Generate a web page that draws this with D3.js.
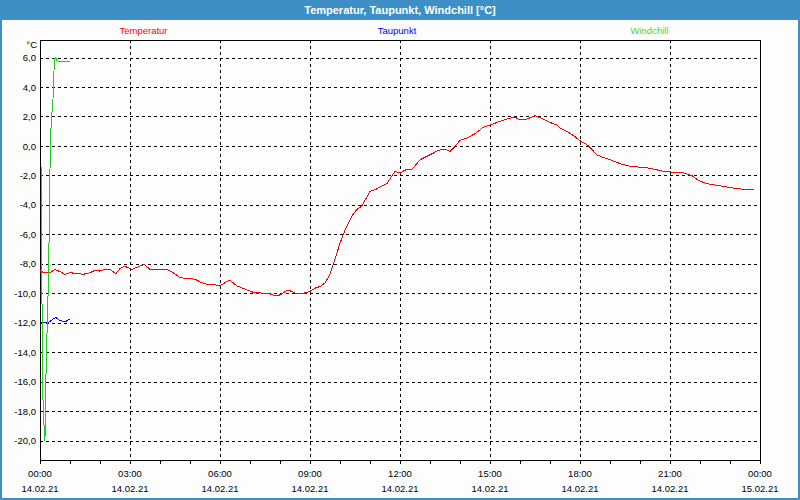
<!DOCTYPE html>
<html><head><meta charset="utf-8">
<script src="https://cdn.jsdelivr.net/npm/d3@7"></script>
<style>body{margin:0;background:#fff}svg{display:block}</style>
</head><body>
<svg id="c" width="800" height="500"></svg>
<script>
// Data (hours after 14.02.21 00:00, °C)
const tempHours = [0.0,0.11,0.33,0.5,0.67,0.83,1.0,1.44,1.67,1.83,2.0,2.17,2.33,2.53,2.67,2.83,3.06,3.28,3.47,3.67,3.83,4.0,4.28,4.44,4.67,4.89,5.17,5.33,5.61,5.83,6.0,6.17,6.33,6.56,6.83,7.11,7.39,7.67,7.83,8.0,8.22,8.33,8.56,8.78,9.0,9.22,9.33,9.5,9.67,9.83,10.0,10.17,10.39,10.56,10.72,11.0,11.17,11.33,11.56,11.83,12.0,12.2,12.39,12.67,13.0,13.28,13.5,13.67,13.78,14.0,14.22,14.5,14.78,15.02,15.33,15.67,15.83,16.0,16.17,16.5,16.72,17.0,17.22,17.33,17.56,17.78,18.02,18.22,18.39,18.56,18.78,19.0,19.22,19.44,19.72,20.0,20.33,20.56,20.78,21.11,21.44,21.72,21.94,22.22,22.56,22.89,23.22,23.56,23.81];
const tempValues = [-8.42,-8.6,-8.6,-8.38,-8.53,-8.71,-8.6,-8.71,-8.6,-8.44,-8.49,-8.38,-8.38,-8.67,-8.31,-8.16,-8.38,-8.2,-8.04,-8.38,-8.42,-8.38,-8.42,-8.6,-8.93,-9.0,-9.04,-9.22,-9.42,-9.42,-9.49,-9.27,-9.11,-9.49,-9.71,-9.93,-9.98,-10.04,-10.16,-10.11,-9.82,-9.82,-10.04,-10.0,-9.87,-9.6,-9.55,-9.3,-8.7,-7.7,-6.6,-5.7,-4.77,-4.32,-4.09,-3.08,-2.97,-2.79,-2.56,-1.72,-1.84,-1.61,-1.61,-0.93,-0.6,-0.3,-0.21,-0.37,-0.14,0.37,0.53,0.83,1.28,1.44,1.66,1.89,1.95,1.77,1.77,2.05,1.89,1.59,1.44,1.22,1.0,0.71,0.33,0.11,-0.22,-0.6,-0.78,-0.93,-1.11,-1.27,-1.4,-1.44,-1.51,-1.62,-1.73,-1.78,-1.82,-2.0,-2.33,-2.56,-2.67,-2.78,-2.89,-2.96,-2.96];

const dewMinutes = [1,15,20,28,32,36,40,46,52,56,59];
const dewValues = [-12.0,-12.0,-11.9,-11.7,-11.65,-11.75,-11.85,-11.9,-11.9,-11.8,-11.8];

const chillMinutes = [3.4,3.6,5.2,6.2,10,10.4,13,16.5,18.6,20,22,24,26,27,29,31,34,40,59];
const chillValues = [-1.4,-9.6,-14.0,-18.0,-20.0,-18.0,-14.0,-9.6,-5.5,-1.6,1.2,2.3,3.2,4.3,5.9,6.0,5.8,5.7,5.7];

const seriesNames = ["Temperatur","Taupunkt","Windchill"];
const yTicks = [-20,-18,-16,-14,-12,-10,-8,-6,-4,-2,0,2,4,6];
const xLabelHours = [0,3,6,9,12,15,18,21,24];
const xLabelDates = ["14.02.21","14.02.21","14.02.21","14.02.21","14.02.21","14.02.21","14.02.21","14.02.21","15.02.21"];
const title = "Temperatur, Taupunkt, Windchill [°C]";
const unit = "°C";

const svg = d3.select("#c");
const W = 800, H = 500;
const L = 40, R = 760, T = 40, B = 460;
const colors = ["#ff0000","#0000ff","#22cc22"];
const legColors = ["#ff0000","#0000ff","#44dd22"];
const font = "'Liberation Sans', Arial, sans-serif";

svg.append("rect").attr("x",0).attr("y",0).attr("width",W).attr("height",H).attr("fill","#fcfdfc");
// title bar
svg.append("rect").attr("x",0).attr("y",0).attr("width",W).attr("height",20).attr("fill","#3d8fc5");
svg.append("rect").attr("x",1).attr("y",1).attr("width",W-2).attr("height",H-2).attr("fill","none").attr("stroke","#3d8fc5").attr("stroke-width",2);
svg.append("text").attr("x",W/2).attr("y",13.5).attr("text-anchor","middle").attr("fill","#fff")
  .attr("font-family",font).attr("font-weight","bold").attr("font-size","11px").text(title);

const t0 = new Date(2021,1,14,0,0);
const t1 = new Date(2021,1,15,0,0);
const hr = h => new Date(t0.getTime() + h*3600000);
const x = d3.scaleTime().domain([t0,t1]).range([L,R]);
const y = d3.scaleLinear().domain([-21.31,7.19]).range([B,T]);

// grid
const grid = svg.append("g").attr("shape-rendering","crispEdges").attr("stroke","#000").attr("stroke-dasharray","3,3");
grid.selectAll("line.h").data(yTicks).join("line").attr("class","h")
  .attr("x1",L).attr("x2",R).attr("y1",d=>Math.round(y(d))+0.5).attr("y2",d=>Math.round(y(d))+0.5);
grid.selectAll("line.v").data(xLabelHours.filter(h=>h>0&&h<24)).join("line").attr("class","v")
  .attr("x1",d=>Math.round(x(hr(d)))+0.5).attr("x2",d=>Math.round(x(hr(d)))+0.5).attr("y1",T).attr("y2",B);

// frame
svg.append("rect").attr("x",L+0.5).attr("y",T+0.5).attr("width",R-L).attr("height",B-T)
  .attr("fill","none").attr("stroke","#000").attr("shape-rendering","crispEdges");

// x axis minor ticks
const xAxis = d3.axisBottom(x).ticks(d3.timeHour.every(1)).tickSize(4).tickFormat("");
const gx = svg.append("g").attr("transform",`translate(0,${B})`).attr("shape-rendering","crispEdges").call(xAxis);
gx.select(".domain").remove();
gx.selectAll(".tick line").attr("stroke","#000");

const lab = svg.append("g").attr("font-family",font).attr("font-size","9.5px").attr("fill","#000").attr("text-anchor","middle");
lab.selectAll("text.t").data(xLabelHours).join("text").attr("class","t")
  .attr("x",d=>x(hr(d))).attr("y",477).text(d=>d3.timeFormat("%H:%M")(hr(d)));
lab.selectAll("text.d").data(xLabelDates).join("text").attr("class","d")
  .attr("x",(d,i)=>x(hr(xLabelHours[i]))).attr("y",492).text(d=>d);

// y axis labels
const yAxis = d3.axisLeft(y).tickValues(yTicks).tickSize(0).tickPadding(4)
  .tickFormat(d=>d.toFixed(1).replace(".",","));
const gy = svg.append("g").attr("transform",`translate(${L},0)`).call(yAxis);
gy.select(".domain").remove();
gy.selectAll("text").attr("font-family",font).attr("font-size","9.5px").attr("fill","#000");
svg.append("text").attr("x",37).attr("y",48).attr("text-anchor","end").attr("font-family",font)
  .attr("font-size","9.5px").attr("fill","#000").text(unit);

// legend
const legX = [143.5,397,649.5];
svg.selectAll("text.leg").data(seriesNames).join("text").attr("class","leg")
  .attr("x",(d,i)=>legX[i]).attr("y",34).attr("text-anchor","middle").attr("font-family",font)
  .attr("font-size","9.5px").attr("fill",(d,i)=>legColors[i]).text(d=>d);

// lines
const line = d3.line().x(d=>x(d[0])).y(d=>y(d[1]));
const temp = tempHours.map((h,i)=>[hr(h),tempValues[i]]);
const dew = dewMinutes.map((m,i)=>[hr(m/60),dewValues[i]]);
const chill = chillMinutes.map((m,i)=>[hr(m/60),chillValues[i]]);
[temp,dew,chill].forEach((data,i)=>{
  svg.append("path").datum(data).attr("d",line).attr("fill","none")
    .attr("stroke",colors[i]).attr("stroke-width",1).attr("shape-rendering","crispEdges");
});
</script>
</body></html>
